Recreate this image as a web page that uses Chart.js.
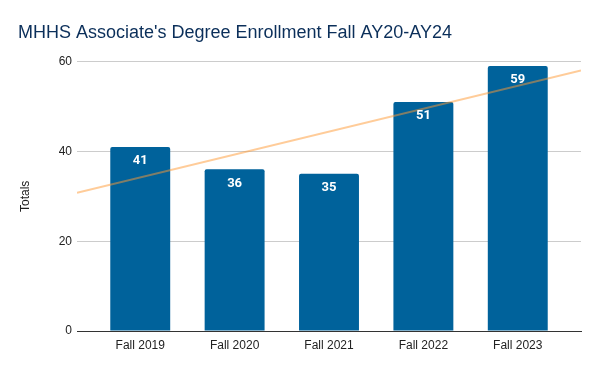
<!DOCTYPE html>
<html>
<head>
<meta charset="utf-8">
<script src="https://cdn.jsdelivr.net/npm/chart.js@4"></script>
<style>
  html, body { margin: 0; padding: 0; background: #fff; }
  #wrap { width: 600px; height: 371px; }
</style>
</head>
<body>
<div id="wrap"><canvas id="chart"></canvas></div>
<script>
// data
const categories = ['Fall 2019', 'Fall 2020', 'Fall 2021', 'Fall 2022', 'Fall 2023'];
const totals = [41, 36, 35, 51, 59];
// trendline end values (at the left and right edges of the plot)
const trendEnds = [30.8, 58.0];
const yTicks = [0, 20, 40, 60];

const edgePad = 0.17; // extra room left/right of the category bands
const xMin = -0.5 - edgePad;
const xMax = categories.length - 0.5 + edgePad;

const barData = totals.map((v, i) => ({ x: i, y: v }));
const trendData = [{ x: xMin, y: trendEnds[0] }, { x: xMax, y: trendEnds[1] }];

// white value labels inside the top of each bar
const barLabels = {
    id: 'barLabels',
    afterDatasetsDraw(chart) {
        const ctx = chart.ctx;
        const meta = chart.getDatasetMeta(1);
        ctx.save();
        ctx.fillStyle = '#ffffff';
        ctx.font = 'bold 13px Roboto';
        ctx.textAlign = 'center';
        ctx.textBaseline = 'middle';
        meta.data.forEach((bar, i) => {
            ctx.fillText(totals[i], bar.x, bar.y + 14);
        });
        ctx.restore();
    }
};

new Chart(document.getElementById('chart'), {
    type: 'bar',
    data: {
        datasets: [
            {
                type: 'line',
                data: trendData,
                borderColor: 'rgba(255, 153, 51, 0.5)',
                borderWidth: 2,
                pointRadius: 0,
                order: 0,
            },
            {
                type: 'bar',
                data: barData,
                backgroundColor: '#00629b',
                borderRadius: { topLeft: 2, topRight: 2 },
                borderSkipped: 'bottom',
                categoryPercentage: 1,
                barPercentage: 0.635,
                order: 1,
            },
        ],
    },
    plugins: [barLabels],
    options: {
        responsive: true,
        maintainAspectRatio: false,
        animation: false,
        layout: { padding: { left: 18, right: 19, top: 0, bottom: 0 } },
        plugins: {
            legend: { display: false },
            tooltip: { enabled: false },
            title: {
                display: true,
                text: "MHHS Associate's Degree Enrollment Fall AY20-AY24",
                align: 'start',
                color: '#0b2f5a',
                font: { family: 'Arial', size: 18, weight: 'normal' },
                padding: { top: 22, bottom: 18 },
            },
        },
        scales: {
            x: {
                type: 'linear',
                offset: false,
                min: xMin,
                max: xMax,
                afterBuildTicks(axis) {
                    axis.ticks = categories.map((_, i) => ({ value: i }));
                },
                afterFit(axis) { axis.height = 40; },
                ticks: {
                    callback: (v) => categories[v],
                    color: '#222',
                    font: { family: 'Arial', size: 12 },
                    padding: 7,
                    autoSkip: false,
                    maxRotation: 0,
                },
                grid: { display: false, drawTicks: false, offset: false },
                border: { display: true, color: '#333', width: 1 },
            },
            y: {
                min: 0,
                max: 60,
                afterBuildTicks(axis) {
                    axis.ticks = yTicks.map(v => ({ value: v }));
                },
                afterFit(axis) { axis.width = 59; },
                ticks: {
                    color: '#222',
                    font: { family: 'Arial', size: 12 },
                    padding: 5,
                },
                grid: { color: '#cccccc', drawTicks: false },
                border: { display: false },
                title: {
                    display: true,
                    text: 'Totals',
                    color: '#222',
                    font: { family: 'Arial', size: 12 },
                    padding: { top: 0, bottom: 0 },
                },
            },
        },
    },
});
</script>
</body>
</html>
